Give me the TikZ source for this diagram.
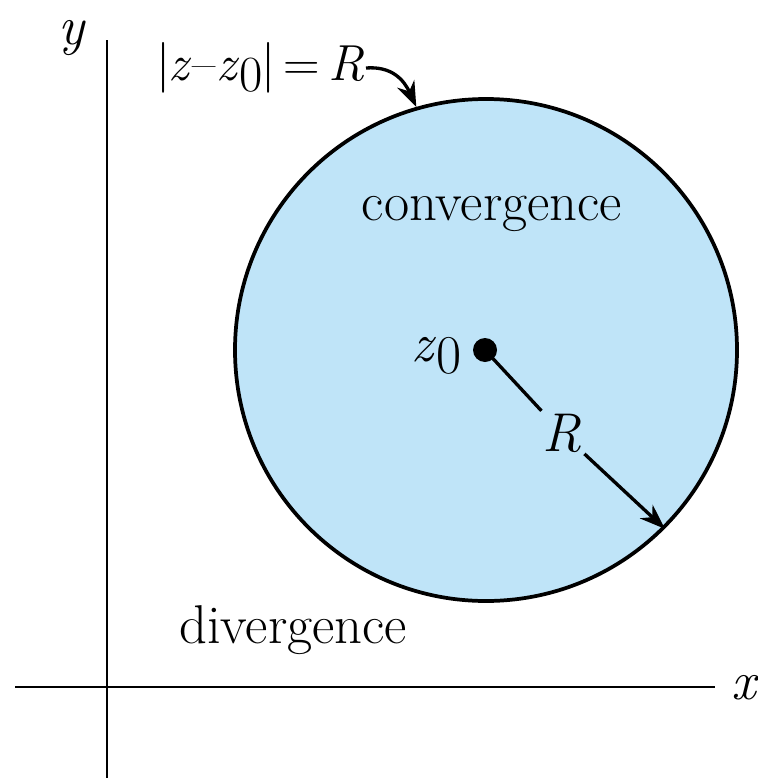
\documentclass[tikz,border=0pt]{standalone}
\usetikzlibrary{arrows.meta}
\definecolor{diskblue}{HTML}{BFE4F8}
\tikzset{
  axisline/.style={line width=1.9pt},
  lbl/.style={font=\fontsize{41}{48}\selectfont, inner sep=2pt},
  arrowtip/.style={-{Stealth[length=19pt,width=14pt]}},
}
\begin{document}
\begin{tikzpicture}[x=0.75pt,y=-0.75pt]
\useasboundingbox (0,0) rectangle (757,778);
% axes
\coordinate (ytop) at (107,40);
\coordinate (ybot) at (107,778);
\coordinate (xleft) at (15,687);
\coordinate (xright) at (715,687);
\draw[axisline] (ytop) -- (ybot);
\draw[axisline] (xleft) -- (xright);
\node[lbl] (ylab) at (72,38) {\textit{y}};
\node[lbl] (xlab) at (745,688) {\textit{x}};
% disk
\node[circle, draw, fill=diskblue, line width=2.8pt, minimum size=376.5pt, inner sep=0pt] (disk) at (486,350) {};
\node[circle, fill=black, minimum size=18pt, inner sep=0pt] (dot) at (485,350) {};
\node[lbl] (z0) at (437,356) {\textit{z}\raisebox{-0.22em}{0}};
\node[lbl] (Rlab) at (562,433) {\textit{R}};
\draw[line width=2.5pt, shorten <=-2pt] (dot.center) -- (Rlab);
\draw[line width=2.5pt, arrowtip] (Rlab) -- (disk.-45);
\node[lbl] (conv) at (492,214) {convergence};
\node[lbl] (div) at (293,630) {divergence};
% label
\node[lbl, font=\fontsize{38}{44}\selectfont, anchor=east, inner sep=1pt] (eq) at (366,68) {|\kern-1pt\textit{z}\kern0.5pt--\kern0.5pt\textit{z}\raisebox{-0.22em}{0}\kern-1pt|\kern6pt=\kern6pt\textit{R}};
\draw[line width=2.5pt, arrowtip] (eq.east) .. controls (392,66) and (404,80) .. (disk.106);
\end{tikzpicture}
\end{document}
